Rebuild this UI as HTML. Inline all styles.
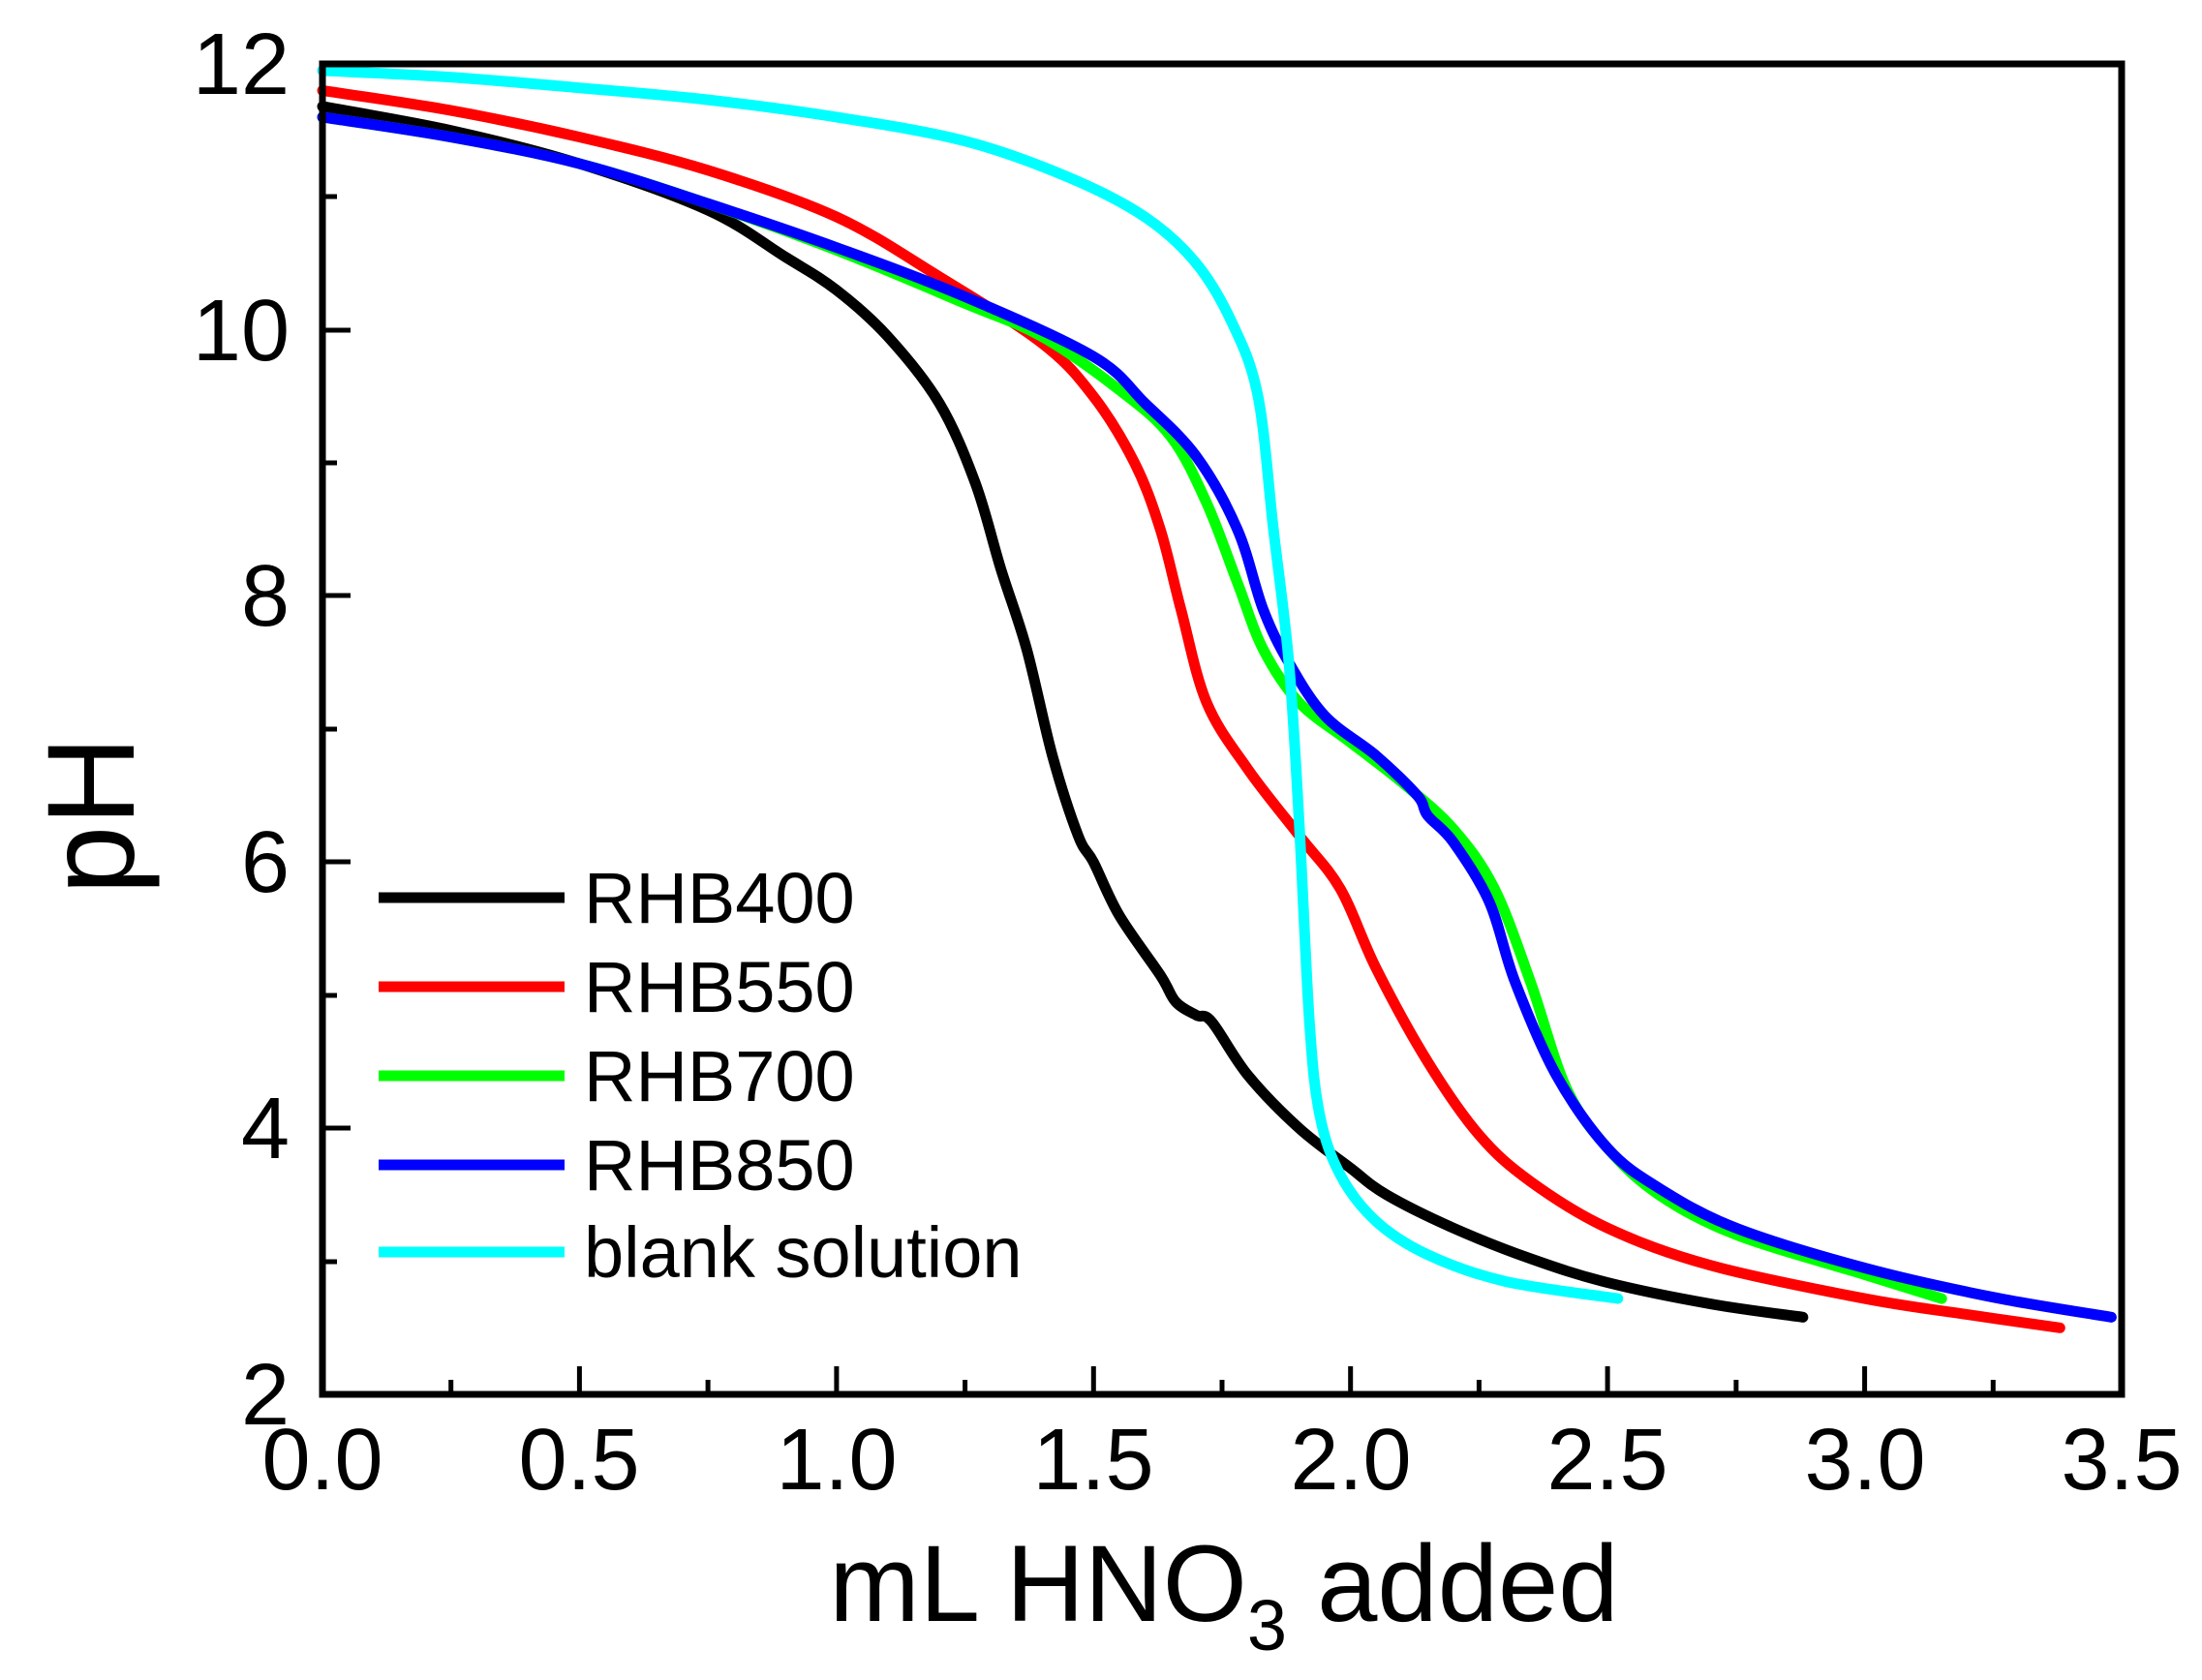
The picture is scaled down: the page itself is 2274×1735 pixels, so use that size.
<!DOCTYPE html>
<html><head><meta charset="utf-8"><style>
html,body{margin:0;padding:0;background:#fff}
svg{display:block}
text{font-family:"Liberation Sans",sans-serif;fill:#000}
</style></head><body>
<svg id="s" width="2274" height="1735" viewBox="0 0 2274 1735" xmlns="http://www.w3.org/2000/svg">
<g id="curves" fill="none" stroke-width="11" stroke-linejoin="round" stroke-linecap="round"></g>
<rect x="333" y="66" width="1858" height="1374" fill="none" stroke="#000" stroke-width="7"/>
<g stroke="#000" stroke-width="5">
<path d="M465.7,1440v-15M598.4,1440v-29M731.1,1440v-15M863.9,1440v-29M996.6,1440v-15M1129.3,1440v-29M1262,1440v-15M1394.7,1440v-29M1527.4,1440v-15M1660.1,1440v-29M1792.9,1440v-15M1925.6,1440v-29M2058.3,1440v-15"/>
<path d="M333,1303h15M333,1165h29M333,1028h15M333,890h29M333,753h15M333,615h29M333,478h15M333,341h29M333,203h15"/>
</g>
<g font-size="90" text-anchor="middle">
<text x="333" y="1538">0.0</text><text x="598" y="1538">0.5</text><text x="864" y="1538">1.0</text><text x="1129" y="1538">1.5</text><text x="1395" y="1538">2.0</text><text x="1660" y="1538">2.5</text><text x="1926" y="1538">3.0</text><text x="2191" y="1538">3.5</text>
</g>
<g font-size="90" text-anchor="end">
<text x="299" y="1471">2</text><text x="299" y="1196">4</text><text x="299" y="921">6</text><text x="299" y="646">8</text><text x="299" y="372">10</text><text x="299" y="97">12</text>
</g>
<text x="1264" y="1674" font-size="112" text-anchor="middle">mL HNO<tspan font-size="74" dy="30">3</tspan><tspan dy="-30"> added</tspan></text>
<text transform="translate(138,842) rotate(-90)" font-size="128" text-anchor="middle">pH</text>
<g stroke-width="11">
<line x1="391" y1="927" x2="583" y2="927" stroke="#000"/>
<line x1="391" y1="1019" x2="583" y2="1019" stroke="#ff0000"/>
<line x1="391" y1="1111" x2="583" y2="1111" stroke="#00ff00"/>
<line x1="391" y1="1203" x2="583" y2="1203" stroke="#0000ff"/>
<line x1="391" y1="1293" x2="583" y2="1293" stroke="#00ffff"/>
</g>
<g font-size="74">
<text x="603" y="953">RHB400</text>
<text x="603" y="1045">RHB550</text>
<text x="603" y="1137">RHB700</text>
<text x="603" y="1229">RHB850</text>
<text x="603" y="1319">blank solution</text>
</g>
</svg>
<script>
var D=[
["#000",[0,11.68,0.25,11.5,0.5,11.25,0.75,10.9,0.9,10.55,1.0,10.3,1.1,9.95,1.2,9.45,1.27,8.85,1.32,8.2,1.37,7.6,1.42,6.8,1.47,6.2,1.5,6.0,1.55,5.6,1.63,5.15,1.66,4.95,1.7,4.85,1.73,4.8,1.8,4.4,1.9,4.0,2.0,3.7,2.07,3.5,2.2,3.25,2.35,3.02,2.5,2.84,2.7,2.68,2.88,2.58]],
["#ff0000",[0,11.8,0.25,11.65,0.5,11.45,0.75,11.2,1.0,10.85,1.2,10.4,1.4,9.9,1.5,9.5,1.58,9.0,1.63,8.5,1.67,7.9,1.72,7.2,1.8,6.7,1.9,6.2,1.98,5.8,2.05,5.2,2.15,4.5,2.25,3.95,2.35,3.6,2.5,3.25,2.7,2.97,3.0,2.72,3.2,2.6,3.38,2.5]],
["#00ff00",[0,11.6,0.25,11.45,0.5,11.25,0.75,10.95,1.0,10.6,1.25,10.2,1.4,9.95,1.55,9.55,1.65,9.2,1.72,8.7,1.78,8.1,1.83,7.6,1.9,7.2,2.0,6.9,2.1,6.6,2.2,6.25,2.28,5.8,2.35,5.1,2.42,4.3,2.5,3.85,2.6,3.5,2.75,3.2,3.0,2.9,3.15,2.72]],
["#0000ff",[0,11.6,0.25,11.45,0.5,11.25,0.75,10.95,1.0,10.62,1.25,10.25,1.5,9.8,1.6,9.45,1.7,9.05,1.78,8.5,1.83,7.9,1.88,7.5,1.95,7.1,2.05,6.8,2.13,6.5,2.15,6.35,2.2,6.15,2.27,5.7,2.32,5.1,2.4,4.4,2.5,3.85,2.6,3.55,2.75,3.25,3.0,2.95,3.25,2.73,3.48,2.58]],
["#00ffff",[0,11.95,0.25,11.9,0.5,11.82,0.75,11.73,1.0,11.6,1.25,11.42,1.45,11.15,1.6,10.85,1.7,10.5,1.77,10.05,1.82,9.5,1.85,8.5,1.88,7.5,1.9,6.3,1.92,4.8,1.94,4.1,1.98,3.65,2.05,3.3,2.15,3.05,2.3,2.85,2.52,2.72]]];
var g=document.getElementById("curves"),NS="http://www.w3.org/2000/svg";
D.forEach(function(s){var a=s[1],p=[];for(var i=0;i<a.length;i+=2)p.push([333+530.86*a[i],66+137.4*(12-a[i+1])]);
var d="M"+p[0][0]+","+p[0][1];for(var i=0;i<p.length-1;i++){var p0=p[i-1]||p[i],p1=p[i],p2=p[i+1],p3=p[i+2]||p2;
d+="C"+(p1[0]+(p2[0]-p0[0])/6)+","+(p1[1]+(p2[1]-p0[1])/6)+" "+(p2[0]-(p3[0]-p1[0])/6)+","+(p2[1]-(p3[1]-p1[1])/6)+" "+p2[0]+","+p2[1];}
var e=document.createElementNS(NS,"path");e.setAttribute("d",d);e.setAttribute("stroke",s[0]);g.appendChild(e);});
</script>
</body></html>
